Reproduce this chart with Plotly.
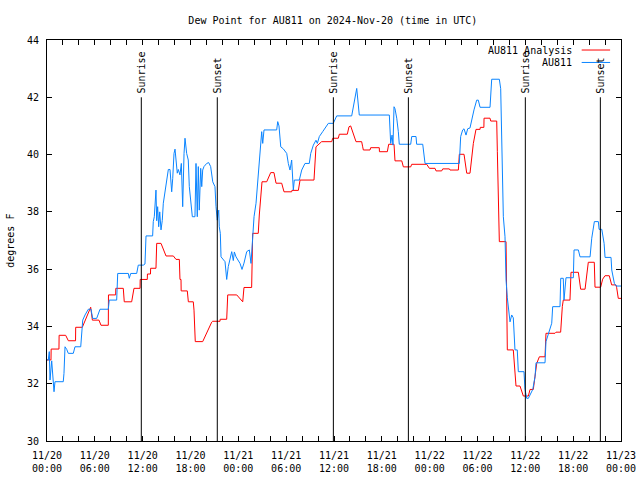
import pandas as pd
import plotly.graph_objects as go

BASE = pd.Timestamp("2024-11-20 00:00")

# AU811 Analysis (red) : hours since 11/20 00:00 UTC, dew point degF
analysis_hours = [0, 0.5, 0.52, 1.5, 1.52, 2.34, 2.68, 3.58, 3.6, 4.43, 5.48, 5.69, 6.52, 6.77,
                  7.69, 7.71, 8.61, 8.63, 9.57, 9.69, 10.62, 10.91, 11.67, 11.69, 12.58, 12.6,
                  12.98, 13.0, 13.67, 13.76, 14.3, 14.93, 15.85, 16.18, 16.6, 16.68, 16.81, 16.83,
                  17.6, 17.73, 18.35, 18.44, 18.6, 19.53, 20.66, 20.78, 21.7, 21.72, 22.54, 22.67,
                  23.8, 24.55, 24.71, 25.67, 25.8, 26.5, 26.63, 26.8, 26.97, 27.56, 28.06, 28.47,
                  28.73, 29.44, 29.73, 30.69, 30.72, 31.53, 31.74, 33.49, 33.62, 33.74, 34.45,
                  35.71, 35.84, 36.54, 36.67, 37.67, 37.88, 38.09, 38.76, 39.47, 39.6, 39.68,
                  40.52, 40.6, 41.68, 41.7, 42.69, 42.86, 43.53, 43.65, 44.5, 44.7, 45.62, 45.75,
                  47.63, 47.96, 48.67, 48.8, 49.51, 49.64, 50.47, 50.55, 51.6, 51.72, 52.31, 52.43,
                  52.65, 53.06, 53.27, 53.48, 53.81, 54.32, 54.35, 54.8, 54.82, 55.57, 55.66, 56.41,
                  56.49, 56.61, 56.74, 57.58, 57.66, 57.74, 58.49, 58.7, 58.83, 59.33, 59.75, 60.38,
                  60.59, 61.0, 61.21, 61.43, 61.76, 62.47, 62.59, 63.72, 63.85, 64.43, 64.64, 64.76,
                  65.6, 65.73, 66.65, 66.77, 66.94, 67.49, 67.61, 67.9, 68.65, 68.74, 69.45, 69.7,
                  69.99, 70.53, 70.83, 71.37, 71.46, 71.66, 72.0]
analysis_values = [32.83, 32.83, 33.21, 33.21, 33.69, 33.69, 33.50, 33.50, 33.97, 33.97, 34.67, 34.22,
                   34.22, 34.04, 34.04, 35.10, 35.10, 35.33, 35.33, 34.86, 34.86, 35.33, 35.33, 35.64,
                   35.64, 35.83, 35.83, 36.03, 36.03, 36.90, 36.90, 36.46, 36.46, 36.34, 36.34, 35.64,
                   35.64, 35.24, 35.24, 34.86, 34.86, 34.57, 33.47, 33.47, 34.15, 34.18, 34.18, 34.25,
                   34.25, 35.10, 35.10, 34.86, 35.36, 35.36, 37.25, 37.25, 37.89, 38.65, 39.05, 39.05,
                   39.37, 39.37, 39.00, 39.00, 38.70, 38.70, 38.75, 38.75, 39.11, 39.11, 39.58, 40.27,
                   40.45, 40.45, 40.57, 40.57, 40.71, 40.71, 40.97, 41.00, 40.45, 40.45, 40.27, 40.16,
                   40.16, 40.24, 40.24, 40.10, 40.10, 40.36, 40.36, 39.78, 39.78, 39.57, 39.57, 39.66,
                   39.66, 39.52, 39.52, 39.43, 39.43, 39.50, 39.50, 39.46, 39.46, 40.01, 40.01, 39.75,
                   39.35, 39.35, 39.87, 40.39, 40.88, 40.88, 40.95, 40.95, 41.27, 41.27, 41.17, 41.17,
                   40.10, 38.01, 36.96, 36.96, 35.10, 33.18, 33.18, 32.25, 31.92, 31.92, 31.57, 31.57,
                   31.80, 31.80, 32.25, 32.71, 32.94, 32.94, 33.76, 33.76, 33.80, 33.80, 34.69, 34.92,
                   34.92, 35.89, 35.89, 35.60, 35.30, 35.30, 35.60, 36.24, 36.24, 35.37, 35.37, 35.65,
                   35.77, 35.77, 35.45, 35.45, 35.35, 34.98, 34.98]

# AU811 observations (blue)
obs_hours = [0, 0.16, 0.29, 0.38, 0.59, 0.72, 0.88, 1.0, 2.04, 2.13, 2.26, 2.47, 2.67, 3.3, 3.51,
             4.23, 4.35, 4.48, 4.77, 5.18, 5.52, 5.73, 6.23, 6.44, 6.65, 7.69, 7.81, 8.74, 8.87,
             10.2, 10.32, 10.5, 11.25, 11.45, 12.08, 12.29, 12.42, 13.25, 13.33, 13.46, 13.67,
             13.76, 13.88, 14.01, 14.14, 14.3, 14.46, 14.59, 14.8, 14.93, 15.22, 15.43, 15.64,
             15.77, 15.93, 16.06, 16.18, 16.34, 16.47, 16.68, 16.85, 17.02, 17.19, 17.31, 17.52,
             17.72, 17.85, 18.06, 18.23, 18.56, 18.69, 18.85, 18.98, 19.1, 19.28, 19.41, 19.53,
             19.69, 20.03, 20.28, 20.53, 20.79, 21.07, 21.2, 21.36, 21.54, 21.61, 21.74, 21.83,
             22.33, 22.54, 22.74, 22.96, 23.17, 23.37, 23.5, 23.71, 24.0, 24.21, 24.46, 24.71,
             25.05, 25.38, 25.59, 25.8, 25.97, 26.22, 26.38, 26.59, 26.81, 26.93, 27.06, 27.22,
             28.81, 28.94, 29.1, 29.32, 29.64, 30.07, 30.27, 30.48, 30.69, 30.9, 31.02, 31.65,
             31.95, 32.36, 32.9, 33.08, 33.41, 33.74, 33.91, 34.16, 34.58, 35.0, 35.29, 35.91,
             36.34, 38.22, 38.42, 38.63, 38.85, 39.17, 42.94, 43.11, 43.28, 43.4, 43.53, 43.65,
             43.87, 44.07, 44.19, 45.62, 45.75, 46.29, 46.37, 47.13, 47.29, 47.42, 51.72, 51.89,
             52.14, 52.31, 52.56, 52.77, 53.06, 53.27, 53.56, 53.9, 54.1, 54.32, 55.57, 55.78,
             56.74, 56.91, 57.04, 57.24, 57.45, 57.58, 57.74, 57.91, 58.08, 58.29, 58.49, 58.7,
             58.99, 59.12, 59.83, 59.96, 60.17, 60.38, 60.59, 60.93, 61.22, 61.34, 62.47, 62.59,
             63.31, 63.43, 64.35, 64.44, 64.76, 64.85, 65.1, 66.02, 66.11, 66.65, 66.86, 68.12,
             68.33, 68.66, 69.16, 69.25, 69.59, 69.88, 70.0, 70.75, 70.84, 71.17, 71.39, 72.0]
obs_values = [32.83, 32.83, 33.12, 32.13, 32.8, 32.25, 31.72, 32.07, 32.07, 32.36, 33.29, 33.2, 33.06,
              33.06, 33.29, 33.29, 33.87, 34.22, 34.4, 34.6, 34.6, 34.28, 34.28, 34.46, 34.6, 34.6,
              34.92, 34.92, 35.85, 35.85, 35.68, 35.85, 35.85, 36.14, 36.14, 36.18, 37.16, 37.16,
              37.66, 37.83, 38.76, 37.69, 38.18, 37.48, 38.0, 37.37, 37.7, 38.3, 38.65, 38.88, 39.48,
              39.48, 38.7, 39.17, 40.04, 40.19, 39.81, 39.35, 39.48, 39.29, 39.69, 38.18, 40.04,
              40.57, 40.04, 39.81, 38.88, 38.3, 37.83, 37.83, 39.69, 37.83, 39.58, 38.06, 39.52,
              38.88, 39.46, 39.58, 39.69, 39.72, 39.58, 39.05, 38.88, 38.18, 37.71, 38.06, 37.48,
              37.25, 36.43, 36.26, 35.64, 36.09, 36.43, 36.61, 36.3, 36.6, 36.43, 36.3, 36.2, 35.99,
              36.21, 36.61, 36.67, 36.2, 37.37, 37.83, 38.3, 38.88, 39.69, 40.39, 40.8, 40.39, 40.86,
              40.86, 41.15, 41.0, 40.27, 40.2, 40.04, 39.69, 39.46, 39.81, 38.76, 39.11, 39.11, 39.46,
              39.69, 39.69, 40.04, 40.33, 40.5, 40.39, 40.63, 40.8, 40.97, 41.09, 41.09, 41.35, 41.35,
              41.67, 42.02, 42.31, 41.38, 41.38, 40.39, 40.68, 40.33, 41.67, 41.6, 41.27, 40.8, 40.36,
              40.36, 40.63, 40.63, 40.36, 40.36, 40.0, 39.69, 39.69, 40.63, 40.86, 40.9, 40.68, 40.9,
              40.93, 41.21, 41.56, 41.9, 41.9, 41.65, 41.65, 42.63, 42.63, 42.3, 40.27, 37.83, 37.13,
              35.62, 35.0, 34.46, 34.16, 34.4, 34.3, 33.18, 33.18, 32.42, 32.42, 31.8, 31.49, 31.49,
              31.6, 31.8, 32.25, 32.73, 32.73, 33.47, 34.11, 34.69, 34.69, 35.68, 35.68, 34.92, 35.7,
              35.7, 36.67, 36.67, 36.43, 36.43, 37.08, 37.66, 37.66, 37.39, 37.39, 36.9, 36.41, 36.41,
              35.97, 35.5, 35.41, 35.41]

sun_labels = ["Sunrise", "Sunset", "Sunrise", "Sunset", "Sunrise", "Sunset"]
sun_hours = [11.83, 21.36, 35.92, 45.33, 60.0, 69.41]

series_names = ["AU811 Analysis", "AU811"]
series_colors = ["#ff0000", "#0a84ff"]

def to_time(hours):
    return [BASE + pd.Timedelta(hours=h) for h in hours]

FONT = "DejaVu Sans Mono"
# initial size fits inside the window together with the page's default 8px body margin;
# the post script then removes the body margin and restores the full 640x480 layout.
FIG_W, FIG_H = 624, 464

fig = go.Figure()
for hrs, vals, name, col in [(analysis_hours, analysis_values, series_names[0], series_colors[0]),
                             (obs_hours, obs_values, series_names[1], series_colors[1])]:
    fig.add_trace(go.Scatter(x=to_time(hrs), y=vals, mode="lines", name=name,
                             line=dict(color=col, width=1), showlegend=False))

shapes = []
annotations = []
for lab, h in zip(sun_labels, sun_hours):
    t = BASE + pd.Timedelta(hours=h)
    shapes.append(dict(type="line", xref="x", yref="y", x0=t, x1=t, y0=30, y1=42,
                       line=dict(color="black", width=1)))
    annotations.append(dict(x=t, y=42, xref="x", yref="y", text=lab, textangle=-90,
                            showarrow=False, xanchor="center", yanchor="bottom", yshift=2,
                            font=dict(family=FONT, size=10, color="black")))

# manual legend (gnuplot style: text then sample line)
leg_y = [0.975, 0.944]
for name, col, yy in zip(series_names, series_colors, leg_y):
    annotations.append(dict(x=0.918, y=yy, xref="paper", yref="paper", text=name,
                            showarrow=False, xanchor="right", yanchor="middle",
                            font=dict(family=FONT, size=10, color="black")))
    shapes.append(dict(type="line", xref="paper", yref="paper", x0=0.9315, x1=0.981,
                       y0=yy, y1=yy, line=dict(color=col, width=1)))

annotations.append(dict(x=-0.064, y=0.5, xref="paper", yref="paper", text="degrees F",
                        textangle=-90, showarrow=False, xanchor="center", yanchor="middle",
                        font=dict(family=FONT, size=10, color="black")))

fig.update_layout(
    width=FIG_W, height=FIG_H,
    margin=dict(l=39, r=11, t=32, b=31, autoexpand=False),
    paper_bgcolor="white", plot_bgcolor="white",
    font=dict(family=FONT, size=10, color="black"),
    hovermode=False,
    title=dict(text="Dew Point for AU811 on 2024-Nov-20 (time in UTC)", x=0.498, xref="paper",
               xanchor="center", y=1 - 12 / FIG_H, yref="container", yanchor="middle",
               automargin=False, font=dict(family=FONT, size=10, color="black")),
    shapes=shapes, annotations=annotations,
)
fig.update_xaxes(
    type="date", range=[BASE, BASE + pd.Timedelta(hours=72)],
    tick0=BASE, dtick=6 * 3600 * 1000, tickformat="%m/%d<br>%H:%M",
    ticks="inside", ticklen=5, tickcolor="black", tickwidth=1,
    minor=dict(dtick=2 * 3600 * 1000, ticks="inside", ticklen=5, tickcolor="black"),
    showline=True, linecolor="black", linewidth=1, mirror="allticks",
    showgrid=False, zeroline=False, ticklabelstandoff=5, automargin=False,
)
fig.update_yaxes(
    range=[30, 44], dtick=2, tick0=30,
    ticks="inside", ticklen=5, tickcolor="black", tickwidth=1,
    showline=True, linecolor="black", linewidth=1, mirror="allticks",
    showgrid=False, zeroline=False, ticklabelstandoff=5, automargin=False,
)

post = ("document.body.style.margin='0';"
        "var gd=document.getElementById('{plot_id}');"
        "gd.style.width='640px';gd.style.height='480px';"
        "Plotly.relayout(gd,{'width':640,'height':480,'margin.l':47,'margin.r':19,"
        "'margin.t':40,'margin.b':39,'title.y':" + str(1 - 20 / 480) + "});")
fig.write_html("out.html", config={"displayModeBar": False, "staticPlot": True},
               post_script=post)
